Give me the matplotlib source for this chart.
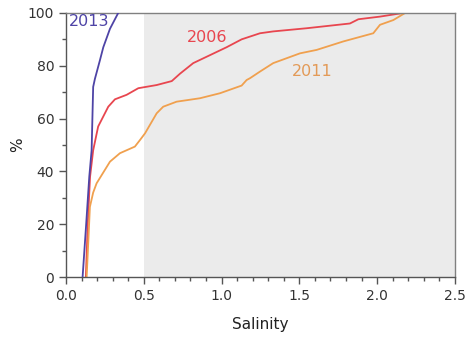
import matplotlib
matplotlib.use("Agg")
import matplotlib.pyplot as plt
from matplotlib.ticker import MultipleLocator

# cumulative share (%) against salinity for each survey year
sal_2013 = [0.107, 0.130, 0.150, 0.165, 0.175, 0.186, 0.218, 0.240, 0.283, 0.336]
pct_2013 = [0, 20, 38, 48, 72, 75, 82, 87, 94, 100]

sal_2006 = [0.128, 0.140, 0.155, 0.175, 0.207, 0.272, 0.315, 0.390, 0.465, 0.583,
            0.680, 0.733, 0.818, 0.925, 1.032, 1.129, 1.247, 1.332, 1.547, 1.825,
            1.879, 2.018, 2.168]
pct_2006 = [0, 20, 38, 48, 57, 64.5, 67.3, 69, 71.5, 72.7,
            74.2, 77, 81, 84, 87, 90, 92.3, 93, 94.2, 96,
            97.6, 98.6, 100]

sal_2011 = [0.133, 0.145, 0.154, 0.175, 0.197, 0.283, 0.347, 0.443, 0.476, 0.508,
            0.583, 0.625, 0.711, 0.861, 0.990, 1.129, 1.161, 1.183, 1.247, 1.332,
            1.504, 1.611, 1.782, 1.975, 2.018, 2.104, 2.180]
pct_2011 = [0, 15, 26.6, 32, 35.5, 43.7, 46.9, 49.4, 51.9, 54.4,
            62, 64.5, 66.4, 67.7, 69.6, 72.5, 74.6, 75.3, 77.8, 81,
            84.7, 86, 89.2, 92.3, 95.5, 97.3, 100]

shade_start = 0.5

c2013 = "#4e44a6"
c2006 = "#e8464f"
c2011 = "#f0a04e"

fig = plt.figure(figsize=(4.71, 3.40), dpi=100)
ax = fig.add_axes([0.140, 0.185, 0.826, 0.777])

ax.axvspan(shade_start, 2.5, color="#ebebeb", lw=0, zorder=0)

ax.plot(sal_2006, pct_2006, color=c2006, lw=1.3, zorder=2)
ax.plot(sal_2011, pct_2011, color=c2011, lw=1.3, zorder=2)
ax.plot(sal_2013, pct_2013, color=c2013, lw=1.3, zorder=3)

ax.text(0.02, 95, "2013", color=c2013, fontsize=11.5, zorder=4)
ax.text(0.78, 89, "2006", color=c2006, fontsize=11.5, zorder=4)
ax.text(1.45, 76, "2011", color="#e39a57", fontsize=11.5, zorder=4)

ax.set_xlim(0, 2.5)
ax.set_ylim(0, 100)
ax.xaxis.set_major_locator(MultipleLocator(0.5))
ax.xaxis.set_minor_locator(MultipleLocator(0.1))
ax.yaxis.set_major_locator(MultipleLocator(20))
ax.yaxis.set_minor_locator(MultipleLocator(10))
ax.xaxis.set_major_formatter(matplotlib.ticker.FormatStrFormatter("%.1f"))

for s in ax.spines.values():
    s.set_color("#555555")
    s.set_linewidth(1.0)
ax.spines["top"].set_color("#808080")
ax.spines["right"].set_color("#808080")

ax.tick_params(which="major", direction="out", length=5, width=1, color="#555555",
               labelsize=10, labelcolor="#333333")
ax.tick_params(which="minor", direction="out", length=3, width=1, color="#555555")

ax.set_xlabel("Salinity", fontsize=11, color="#222222", labelpad=10)
ax.set_ylabel("%", fontsize=11, color="#222222", labelpad=2)

fig.savefig("out.png", dpi=100)
